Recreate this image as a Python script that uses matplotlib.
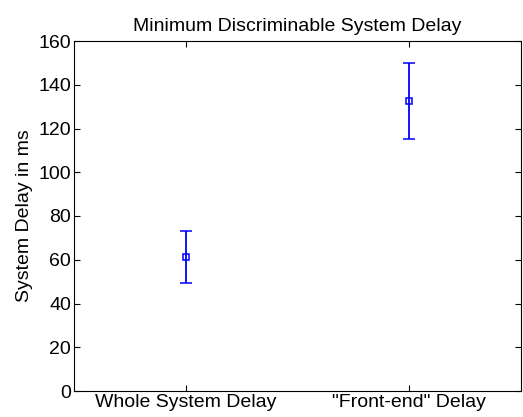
import matplotlib
matplotlib.use("Agg")
import matplotlib.pyplot as plt

categories = ["Whole System Delay", "\"Front-end\" Delay"]
means = [61.2, 132.5]
lower_err = [11.8, 17.4]
upper_err = [11.9, 17.3]
yticks = [0, 20, 40, 60, 80, 100, 120, 140, 160]

plt.rcParams['font.family'] = ['Liberation Sans', 'DejaVu Sans']
fig = plt.figure(figsize=(5.23, 4.17), dpi=100)
ax = fig.add_axes([74/523, 26/417, 447/523, 350/417])
x = list(range(1, len(categories) + 1))
ax.errorbar(x, means, yerr=[lower_err, upper_err], fmt='s', color='#0000ff',
            mfc='none', mec='#0000ff', ms=5, mew=1.1, elinewidth=1.3,
            capsize=4.5, capthick=1.3)
ax.set_xlim(0.5, 2.5)
ax.set_ylim(0, 160)
ax.set_xticks(x)
ax.set_xticklabels(categories)
ax.set_yticks(yticks)
ax.tick_params(direction='in', top=True, right=True, labelsize=14, length=4,
               width=0.8, pad=2)
for s in ax.spines.values():
    s.set_linewidth(0.8)
ax.set_ylabel("System Delay in ms", fontsize=14, labelpad=4)
ax.set_title("Minimum Discriminable System Delay", fontsize=14, pad=7)
fig.savefig("out.png", dpi=100)
